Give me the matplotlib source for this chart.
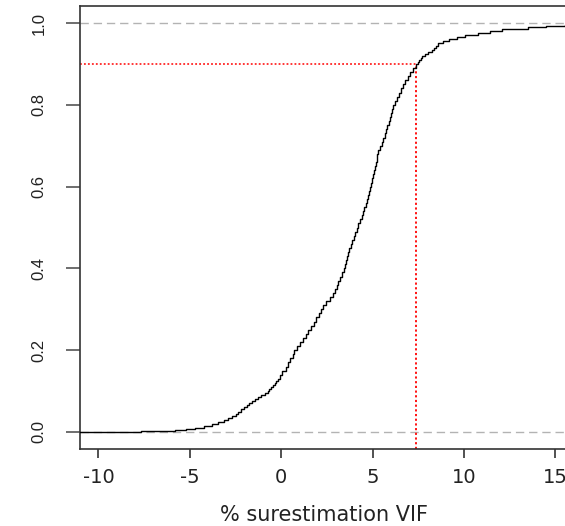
import matplotlib
matplotlib.use("Agg")
import matplotlib.pyplot as plt
import numpy as np

# ECDF knots (values of % surestimation VIF) and cumulative proportions
ecdf_x = [-7.66, -5.80, -5.20, -4.70, -4.25, -3.81, -3.45, -3.12, -2.90, -2.67,
          -2.50, -2.34, -2.18, -2.03, -1.89, -1.75, -1.61, -1.46, -1.28, -1.09,
          -0.90, -0.74, -0.65, -0.55, -0.45, -0.36, -0.27, -0.18, -0.06, 0.06,
          0.25, 0.38, 0.50, 0.62, 0.72, 0.88, 1.03, 1.18, 1.33, 1.48,
          1.63, 1.77, 1.91, 2.05, 2.18, 2.31, 2.47, 2.64, 2.81, 2.93,
          3.03, 3.13, 3.23, 3.32, 3.41, 3.47, 3.52, 3.58, 3.65, 3.72,
          3.81, 3.89, 3.97, 4.05, 4.14, 4.22, 4.31, 4.39, 4.48, 4.55,
          4.61, 4.68, 4.74, 4.81, 4.87, 4.93, 4.98, 5.04, 5.09, 5.14,
          5.18, 5.22, 5.26, 5.30, 5.40, 5.49, 5.59, 5.68, 5.74, 5.80,
          5.87, 5.93, 5.99, 6.05, 6.12, 6.22, 6.33, 6.44, 6.55, 6.66,
          6.79, 6.93, 7.06, 7.20, 7.37, 7.46, 7.55, 7.63, 7.72, 7.85,
          8.05, 8.25, 8.35, 8.45, 8.55, 8.85, 9.15, 9.60, 10.05, 10.75,
          11.40, 12.10, 13.50, 14.50, 15.50, 17.00, 18.50]
ecdf_p = [0.0025, 0.005, 0.0075, 0.010, 0.015, 0.020, 0.025, 0.030, 0.035, 0.040,
          0.045, 0.050, 0.055, 0.060, 0.065, 0.070, 0.075, 0.080, 0.085, 0.090,
          0.095, 0.100, 0.105, 0.110, 0.115, 0.120, 0.125, 0.130, 0.140, 0.150,
          0.16, 0.17, 0.18, 0.19, 0.20, 0.21, 0.22, 0.23, 0.24, 0.25,
          0.26, 0.27, 0.28, 0.29, 0.30, 0.31, 0.32, 0.33, 0.34, 0.35,
          0.36, 0.37, 0.38, 0.39, 0.40, 0.41, 0.42, 0.43, 0.44, 0.45,
          0.46, 0.47, 0.48, 0.49, 0.50, 0.51, 0.52, 0.53, 0.54, 0.55,
          0.56, 0.57, 0.58, 0.59, 0.60, 0.61, 0.62, 0.63, 0.64, 0.65,
          0.66, 0.67, 0.68, 0.69, 0.70, 0.71, 0.72, 0.73, 0.74, 0.75,
          0.76, 0.77, 0.78, 0.79, 0.80, 0.81, 0.82, 0.83, 0.84, 0.85,
          0.86, 0.87, 0.88, 0.89, 0.900, 0.905, 0.910, 0.915, 0.920, 0.925,
          0.930, 0.935, 0.940, 0.945, 0.950, 0.955, 0.960, 0.965, 0.970, 0.975,
          0.980, 0.985, 0.990, 0.9925, 0.995, 0.9975, 1.0]

quantile_level = 0.9
quantile_value = 7.37

x_ticks = [-10, -5, 0, 5, 10, 15]
y_ticks = [0.0, 0.2, 0.4, 0.6, 0.8, 1.0]
y_ticklabels = ["0.0", "0.2", "0.4", "0.6", "0.8", "1.0"]
xlabel = "% surestimation VIF"

W, H = 565, 526
fig = plt.figure(figsize=(W / 100, H / 100), dpi=100)
ax = fig.add_axes([80 / W, (H - 449) / H, (569 - 80) / W, (449 - 6) / H])

xlim = (-11.01, 15.74)
ylim = (-0.0416, 1.0416)
ax.set_xlim(*xlim)
ax.set_ylim(*ylim)

# reference lines at 0 and 1
for h in (0.0, 1.0):
    ax.axhline(h, color="#b3b3b3", lw=1.0, dashes=(6, 3.5), zorder=1)

# ECDF step curve
xs = np.concatenate([[xlim[0]], ecdf_x, [xlim[1] + 10]])
ps = np.concatenate([[0.0], ecdf_p, [ecdf_p[-1]]])
ax.step(xs, ps, where="post", color="black", lw=1.0, zorder=3)

# red dotted quantile lines
ax.plot([xlim[0], quantile_value], [quantile_level, quantile_level],
        color="red", lw=1.1, dashes=(1.2, 1.4), zorder=2)
ax.plot([quantile_value, quantile_value], [ylim[0], quantile_level],
        color="red", lw=1.3, dashes=(1.2, 1.4), zorder=2)

for s in ax.spines.values():
    s.set_color("#333333")
    s.set_linewidth(1.2)

ax.set_xticks(x_ticks)
ax.set_xticklabels([str(v) for v in x_ticks], fontsize=14, family="DejaVu Sans",
                   color="#222222")
ax.set_yticks(y_ticks)
ax.set_yticklabels(y_ticklabels, fontsize=12, family="Liberation Sans",
                   color="#222222", rotation=90, va="center")
ax.tick_params(axis="x", direction="out", length=6.5, width=1.2, color="#333333", pad=7)
ax.tick_params(axis="y", direction="out", length=10, width=1.2, color="#555555", pad=14)

fig.text(324.5 / W, (H - 515) / H, xlabel, ha="center", va="center",
         fontsize=15, family="DejaVu Sans", color="#222222")

fig.savefig("out.png", dpi=100)
